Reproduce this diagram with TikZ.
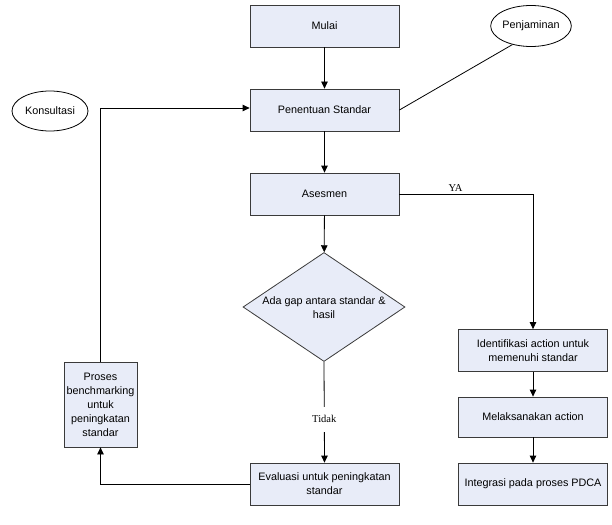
\documentclass[tikz,border=0pt]{standalone}
\usepackage{fontspec}
\setmainfont{Liberation Sans}
\newfontfamily\serifl{Liberation Serif}
\usetikzlibrary{arrows.meta,shapes.geometric}
\definecolor{boxfill}{HTML}{E8ECF8}
\definecolor{edgec}{HTML}{3A3A3A}
\tikzset{
  txt/.style={font=\fontsize{10.8}{14}\selectfont},
  procbox/.style={draw=edgec, line width=0.8pt, fill=boxfill, minimum width=149pt, minimum height=42pt, align=center, txt, inner sep=2pt},
  ovalnode/.style={draw=black, line width=0.8pt, ellipse, fill=white, minimum width=76pt, minimum height=41pt, inner sep=0pt, txt},
  conn/.style={draw=black, line width=0.8pt},
  arr/.style={conn, -{Triangle[width=6.5pt,length=7pt]}},
  lbl/.style={font=\serifl\fontsize{10.5}{12}\selectfont}
}
\begin{document}
\begin{tikzpicture}[x=1pt,y=-1pt]
\useasboundingbox (0,0) rectangle (612,524);
\node[procbox] (mulai) at (324.5,26) {Mulai};
\node[procbox] (penentuan) at (324.5,110) {Penentuan Standar};
\node[procbox] (asesmen) at (324.5,194) {Asesmen};
\node[draw=edgec, line width=0.8pt, fill=boxfill, diamond, aspect=1.49, minimum width=162pt, minimum height=109pt, inner sep=0pt] (gap) at (324,307) {};
\node[align=center, txt] at (324,308) {Ada gap antara standar \&\\hasil};
\node[procbox] (evaluasi) at (324.5,484) {Evaluasi untuk peningkatan\\standar};
\node[procbox, minimum width=73pt, minimum height=85pt, inner sep=1pt] (proses) at (100.5,404.5) {Proses\\benchmarking\\untuk\\peningkatan\\standar};
\node[procbox] (identifikasi) at (533,350.5) {Identifikasi action untuk\\memenuhi standar};
\node[procbox, minimum height=40pt] (melaksanakan) at (533,417) {Melaksanakan action};
\node[procbox] (integrasi) at (533,484) {Integrasi pada proses PDCA};
\node[ovalnode] (penjaminan) at (531,26) {Penjaminan};
\node[ovalnode, minimum height=40pt] (konsultasi) at (50,111) {Konsultasi};
\coordinate (ya) at (533,194);
\coordinate (pbtop) at (100.5,108);
\coordinate (evl) at (100.5,484);
\draw[arr] (mulai) -- (penentuan);
\draw[arr] (penentuan) -- (asesmen);
\draw[arr] (asesmen) -- (gap);
\draw[conn] (penentuan.east) -- (penjaminan.225);
\draw[arr] (asesmen.east) -- node[lbl, above, pos=0.42, yshift=-1pt] {YA} (ya) -- (identifikasi.north);
\draw[arr] (identifikasi) -- (melaksanakan);
\draw[arr] (melaksanakan) -- (integrasi);
\draw[arr] (gap.south) -- node[lbl, fill=white, inner sep=2pt, minimum height=25pt, pos=0.57] {Tidak} (evaluasi.north);
\draw[arr] (evaluasi.west) -- (evl) -- (proses.south);
\draw[arr] (proses.north) -- (pbtop) -- (penentuan.west |- pbtop);
\end{tikzpicture}
\end{document}
